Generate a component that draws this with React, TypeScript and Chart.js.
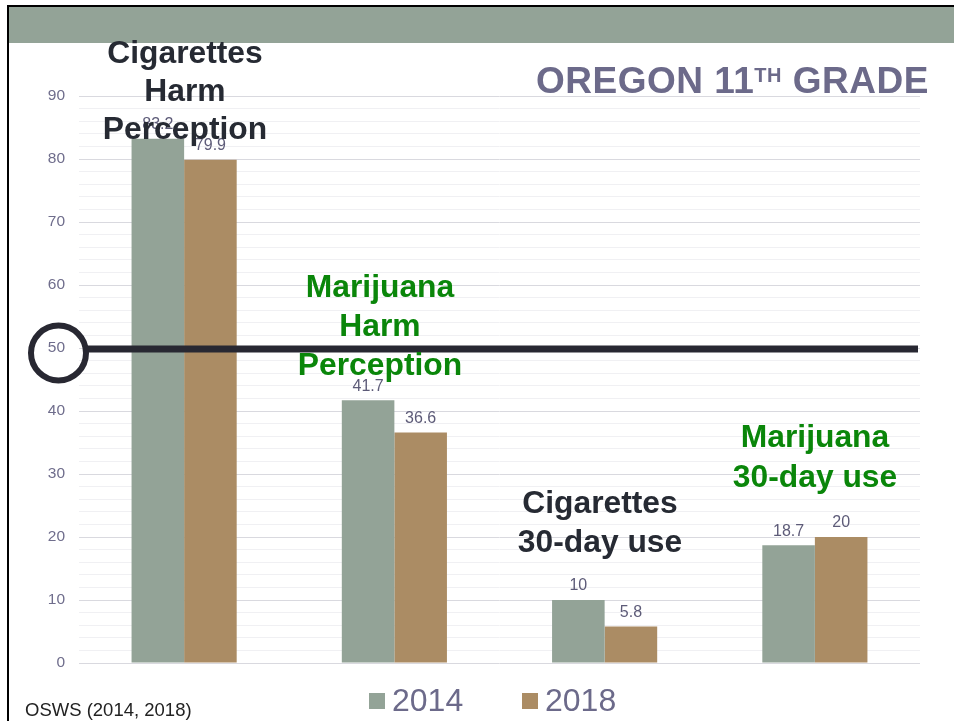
import React, { useEffect, useRef } from 'react';
import { Chart, registerables } from 'chart.js';

Chart.register(...registerables);

// ---- data ----
const CATEGORIES = [
  'Cigarettes Harm Perception',
  'Marijuana Harm Perception',
  'Cigarettes 30-day use',
  'Marijuana 30-day use',
];
const SERIES_NAMES = ['2014', '2018'];
const VALUES_2014 = [83.2, 41.7, 10, 18.7];
const VALUES_2018 = [79.9, 36.6, 5.8, 20];
const Y_MIN = 0;
const Y_MAX = 90;
const Y_MINOR_STEP = 2;
const Y_LABEL_STEP = 10;
const REFERENCE_VALUE = 50;

const TITLE_MAIN = 'OREGON 11';
const TITLE_SUP = 'TH';
const TITLE_END = ' GRADE';
const SOURCE_TEXT = 'OSWS (2014, 2018)';
const ANNOTATION_LINES = [
  ['Cigarettes', 'Harm', 'Perception'],
  ['Marijuana', 'Harm', 'Perception'],
  ['Cigarettes', '30-day use'],
  ['Marijuana', '30-day use'],
];

// ---- styles ----
const FONT = '"Liberation Sans", Arial, Helvetica, sans-serif';
const COLOR_2014 = '#93a397';
const COLOR_2018 = '#ab8c64';
const SERIES_COLORS = [COLOR_2014, COLOR_2018];
const AXIS_TEXT = '#6f6d8c';
const LABEL_TEXT = '#5d5b78';
const TITLE_COLOR = '#6c6a8a';
const DARK = '#262a33';
const GREEN = '#0a860a';
const LINE_DARK = '#282832';

const ANNOTATION_STYLE = [
  { cx: 185, top: 33, lh: 38, color: DARK },
  { cx: 380, top: 267, lh: 39, color: GREEN },
  { cx: 600, top: 483, lh: 38.5, color: DARK },
  { cx: 815, top: 417, lh: 39.5, color: GREEN },
];

const dataLabelPlugin = {
  id: 'dataLabels',
  afterDatasetsDraw(chart: any) {
    const ctx = chart.ctx;
    ctx.save();
    ctx.font = `16px ${FONT}`;
    ctx.fillStyle = LABEL_TEXT;
    ctx.textAlign = 'center';
    ctx.textBaseline = 'middle';
    chart.data.datasets.forEach((ds: any, i: number) => {
      const meta = chart.getDatasetMeta(i);
      meta.data.forEach((bar: any, j: number) => {
        ctx.fillText(String(ds.data[j]), bar.x, bar.y - 14);
      });
    });
    ctx.restore();
  },
};

const referenceLinePlugin = {
  id: 'referenceLine',
  afterDatasetsDraw(chart: any) {
    const ctx = chart.ctx;
    const { left, right } = chart.chartArea;
    const y = chart.scales.y.getPixelForValue(REFERENCE_VALUE);
    ctx.save();
    ctx.strokeStyle = LINE_DARK;
    ctx.lineWidth = 7;
    ctx.beginPath();
    ctx.moveTo(left + 9, y + 1);
    ctx.lineTo(right - 2, y + 1);
    ctx.stroke();
    ctx.lineWidth = 6;
    ctx.beginPath();
    ctx.arc(left - 20.5, y + 5, 27.5, 0, Math.PI * 2);
    ctx.stroke();
    ctx.restore();
  },
};

export default function App() {
  const canvasRef = useRef<HTMLCanvasElement | null>(null);

  useEffect(() => {
    if (!canvasRef.current) return;
    const chart = new Chart(canvasRef.current, {
      type: 'bar',
      data: {
        labels: CATEGORIES,
        datasets: [
          {
            label: SERIES_NAMES[0],
            data: VALUES_2014,
            backgroundColor: COLOR_2014,
            borderWidth: 0,
            categoryPercentage: 0.5,
            barPercentage: 1,
          },
          {
            label: SERIES_NAMES[1],
            data: VALUES_2018,
            backgroundColor: COLOR_2018,
            borderWidth: 0,
            categoryPercentage: 0.5,
            barPercentage: 1,
          },
        ],
      },
      options: {
        responsive: false,
        animation: false,
        devicePixelRatio: 1,
        layout: { padding: { top: 96, right: 34, bottom: 58, left: 0 } },
        plugins: {
          legend: { display: false },
          title: { display: false },
          tooltip: { enabled: false },
        },
        scales: {
          x: { display: false, grid: { display: false } },
          y: {
            min: Y_MIN,
            max: Y_MAX,
            afterFit: (scale: any) => {
              scale.width = 79;
            },
            border: { display: false },
            grid: {
              drawTicks: false,
              color: (c: any) =>
                Math.round(c.tick.value) % Y_LABEL_STEP === 0 ? '#d9d9df' : '#f0f0f3',
              lineWidth: 1,
            },
            ticks: {
              stepSize: Y_MINOR_STEP,
              autoSkip: false,
              padding: 14,
              color: AXIS_TEXT,
              font: { family: FONT, size: 15.5 },
              callback: (v: any) =>
                Math.round(Number(v)) % Y_LABEL_STEP === 0 ? String(Math.round(Number(v))) : '',
            },
          },
        },
      },
      plugins: [dataLabelPlugin, referenceLinePlugin],
    } as any);
    return () => chart.destroy();
  }, []);

  return (
    <div
      style={{
        position: 'fixed',
        left: 0,
        top: 0,
        width: 954,
        height: 721,
        background: '#ffffff',
        overflow: 'hidden',
        fontFamily: FONT,
      }}
    >
      {/* slide frame & header */}
      <div style={{ position: 'absolute', left: 9, top: 7, width: 945, height: 36, background: COLOR_2014 }} />
      <div style={{ position: 'absolute', left: 7, top: 5, width: 947, height: 2, background: '#000' }} />
      <div style={{ position: 'absolute', left: 7, top: 5, width: 2, height: 716, background: '#000' }} />

      <canvas
        ref={canvasRef}
        width={954}
        height={721}
        style={{ position: 'absolute', left: 0, top: 0, width: 954, height: 721 }}
      />

      {/* title */}
      <div
        style={{
          position: 'absolute',
          left: 536,
          top: 62,
          fontSize: 37,
          lineHeight: '37px',
          fontWeight: 'bold',
          letterSpacing: 0.5,
          color: TITLE_COLOR,
          whiteSpace: 'nowrap',
        }}
      >
        {TITLE_MAIN}
        <span style={{ fontSize: 20, position: 'relative', top: -11 }}>{TITLE_SUP}</span>
        {TITLE_END}
      </div>

      {/* category annotations */}
      {ANNOTATION_LINES.map((lines, i) => {
        const s = ANNOTATION_STYLE[i];
        return (
          <div
            key={i}
            style={{
              position: 'absolute',
              left: s.cx - 150,
              top: s.top,
              width: 300,
              textAlign: 'center',
              fontSize: 31.8,
              lineHeight: `${s.lh}px`,
              fontWeight: 'bold',
              color: s.color,
              pointerEvents: 'none',
            }}
          >
            {lines.map((l, k) => (
              <div key={k}>{l}</div>
            ))}
          </div>
        );
      })}

      {/* legend */}
      {SERIES_NAMES.map((name, i) => (
        <div
          key={name}
          style={{
            position: 'absolute',
            left: i === 0 ? 369 : 522,
            top: 684,
            height: 32,
            display: 'flex',
            alignItems: 'center',
            whiteSpace: 'nowrap',
          }}
        >
          <div style={{ width: 16, height: 16, background: SERIES_COLORS[i], marginTop: 2 }} />
          <span style={{ marginLeft: 7, fontSize: 32, lineHeight: '32px', color: TITLE_COLOR }}>{name}</span>
        </div>
      ))}

      {/* source */}
      <div
        style={{
          position: 'absolute',
          left: 25,
          top: 700,
          fontSize: 18.5,
          lineHeight: '20px',
          color: '#222',
          whiteSpace: 'nowrap',
        }}
      >
        {SOURCE_TEXT}
      </div>
    </div>
  );
}
